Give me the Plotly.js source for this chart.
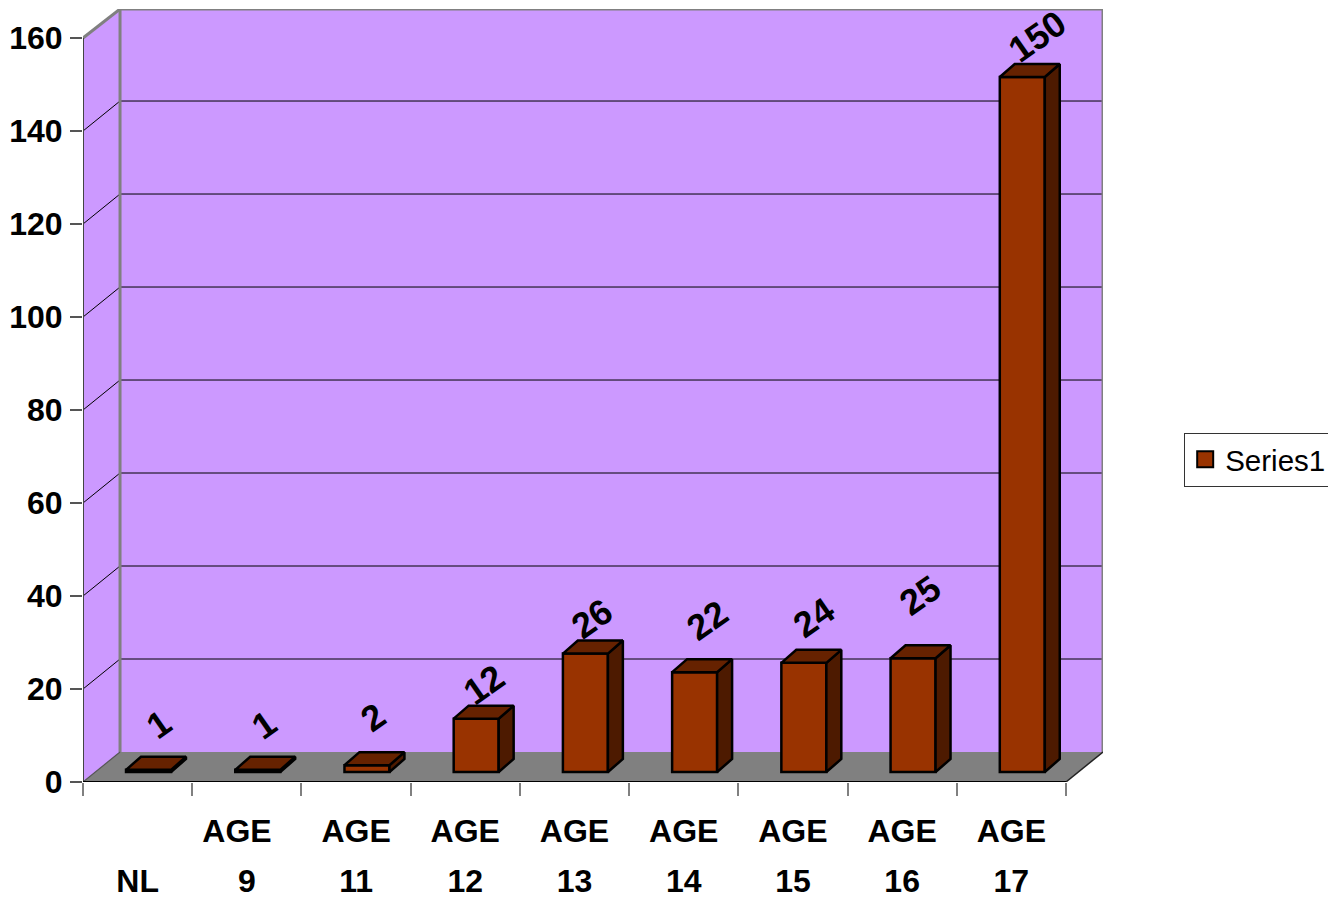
<!DOCTYPE html>
<html><head><meta charset="utf-8">
<script src="https://cdn.plot.ly/plotly-3.0.1.min.js"></script>
<style>html,body{margin:0;padding:0;background:#fff;overflow:hidden}#c{width:1328px;height:898px}</style>
</head><body><div id="c"></div>
<script>
const categoryTop = ["", "AGE", "AGE", "AGE", "AGE", "AGE", "AGE", "AGE", "AGE"];
const categoryBottom = ["NL", "9", "11", "12", "13", "14", "15", "16", "17"];
const values = [1, 1, 2, 12, 26, 22, 24, 25, 150];
const labelLift = [9.7, 9.7, 10.3, 7.3, 7.5, 11.2, 9.7, 13.5, 8.8];
const labelNudge = [-0.02, -0.05, -0.06, -0.04, -0.05, 0, -0.02, -0.05, 0.02];
const topRowNudge = [0, -0.09, 0, 0, 0, 0, 0, 0, 0];
const yTicks = [0, 20, 40, 60, 80, 100, 120, 140, 160];

const xMaxFront = 9, yMaxFront = 160;
const wallDX = 0.339, wallDY = 6.45;
const xMax = xMaxFront + wallDX, yMax = 166.24;
const barShift = 0.1, barW = 0.412, barDX = 0.137, barDY = 2.8;
const baseLift = 2.15, topLift = 1.62;
const GREY = '#808080', WALL = '#CC99FF', FRONT = '#993300', TOP = '#662200', SIDE = '#4D1A00';
const FONT = 'Liberation Sans, Arial, sans-serif';

const centers = values.map((_, i) => i + 0.5 + barShift);
const tops = values.map(v => v + topLift);

function poly(pts) { return 'M' + pts.map(p => p.join(',')).join('L') + 'Z'; }
const shapes = [
  {type:'path', layer:'below', xref:'x', yref:'y', fillcolor:WALL, line:{width:0},
   path:poly([[wallDX,wallDY],[xMax,wallDY],[xMax,yMax],[wallDX,yMax]])},
  {type:'path', layer:'below', xref:'x', yref:'y', fillcolor:WALL, line:{width:0},
   path:poly([[0,0],[wallDX,wallDY],[wallDX,yMax],[0,yMaxFront]])},
  {type:'path', layer:'below', xref:'x', yref:'y', fillcolor:GREY, line:{width:0},
   path:poly([[0,0],[wallDX,wallDY],[xMax,wallDY],[xMaxFront,0]])}
];
function seg(x0,y0,x1,y1,color,width){
  shapes.push({type:'line',layer:'below',xref:'x',yref:'y',x0,y0,x1,y1,line:{color,width}});
}
yTicks.slice(1,-1).forEach(v => {
  seg(0,v,wallDX,v+wallDY,'#000',1);
  seg(wallDX,v+wallDY,xMax,v+wallDY,'#000',1);
});
seg(wallDX,wallDY,wallDX,yMax,GREY,3);
seg(xMax,wallDY,xMax,yMax,GREY,3);
seg(wallDX,yMax,xMax,yMax,GREY,3);
seg(0,yMaxFront,wallDX,yMax,GREY,3);
seg(xMax,wallDY,xMaxFront,0,'#222',1.5);
seg(0,0,wallDX,wallDY,'#555',1.2);
seg(0,0,0,yMaxFront,'#444',2);
seg(0,0,xMaxFront,0,'#000',2);

const topX=[], topY=[], sideX=[], sideY=[];
centers.forEach((c,i) => {
  const l=c-barW/2, r=c+barW/2, t=tops[i];
  topX.push(l,r,r+barDX,l+barDX,l,null);
  topY.push(t,t,t+barDY,t+barDY,t,null);
  sideX.push(r,r+barDX,r+barDX,r,r,null);
  sideY.push(baseLift,baseLift+barDY,t+barDY,t,baseLift,null);
});
const traces = [
  {type:'bar', x:centers, y:tops.map(t=>t-baseLift), base:baseLift, width:barW, showlegend:false, hoverinfo:'skip',
   marker:{color:FRONT, line:{color:'#000',width:2.5}}},
  {type:'scatter', mode:'lines', x:sideX, y:sideY, xaxis:'x2', fill:'toself', fillcolor:SIDE, showlegend:false, hoverinfo:'skip',
   line:{color:'#000',width:2.5}},
  {type:'scatter', mode:'lines', x:topX, y:topY, xaxis:'x2', fill:'toself', fillcolor:TOP, showlegend:false, hoverinfo:'skip',
   line:{color:'#000',width:2.5}},
  {type:'scatter', mode:'markers', x:[null], y:[null], name:'Series1',
   marker:{symbol:'square', size:16, color:FRONT, line:{color:'#000',width:2}}}
];
const annotations = values.map((v,i) => ({
  xref:'x', yref:'y', x:centers[i]+barW*0.27+labelNudge[i], y:tops[i]+labelLift[i], text:String(v), showarrow:false,
  textangle:-35, font:{family:FONT,size:36,color:'#000',weight:700}
}));
const midTicks = categoryBottom.map((_,i)=>i+0.5);
const topTicks = midTicks.map((t,i)=>t+topRowNudge[i]);
const tickFont = {family:FONT,size:32,color:'#000',weight:700};
const layout = {
  width:1328, height:898, paper_bgcolor:'#fff', plot_bgcolor:'rgba(0,0,0,0)',
  margin:{l:83,r:225,t:9,b:116,pad:0,autoexpand:false}, barmode:'overlay', shapes, annotations,
  font:{family:FONT},
  xaxis:{range:[0,xMax], showgrid:false, zeroline:false, showline:false, tickmode:'array', tickvals:topTicks, ticktext:categoryTop,
    ticks:'', tickfont:tickFont, ticklabelstandoff:27, tickangle:0,
    minor:{tickmode:'array', tickvals:[0,1,2,3,4,5,6,7,8,9], ticks:'outside', ticklen:13, tickcolor:GREY, tickwidth:2, showgrid:false}},
  xaxis2:{range:[0,xMax], overlaying:'x', anchor:'y', side:'bottom', showgrid:false, zeroline:false, showline:false, tickmode:'array', tickvals:midTicks, ticktext:categoryBottom,
    ticks:'', tickfont:tickFont, ticklabelstandoff:77, tickangle:0},
  yaxis:{range:[0,yMax], showgrid:false, zeroline:false, showline:false, tickmode:'array', tickvals:yTicks, ticktext:yTicks.map(String),
    ticks:'outside', ticklen:12, tickcolor:'#555', tickwidth:2, tickfont:tickFont, ticklabelstandoff:1},
  showlegend:true,
  legend:{x:1.0796, xanchor:'left', y:0.417, yanchor:'middle', bgcolor:'#fff', bordercolor:'#333', borderwidth:1,
    font:{family:FONT,size:29.5,color:'#000'}, itemwidth:30}
};
Plotly.newPlot('c', traces, layout, {displayModeBar:false, staticPlot:true});
</script></body></html>
